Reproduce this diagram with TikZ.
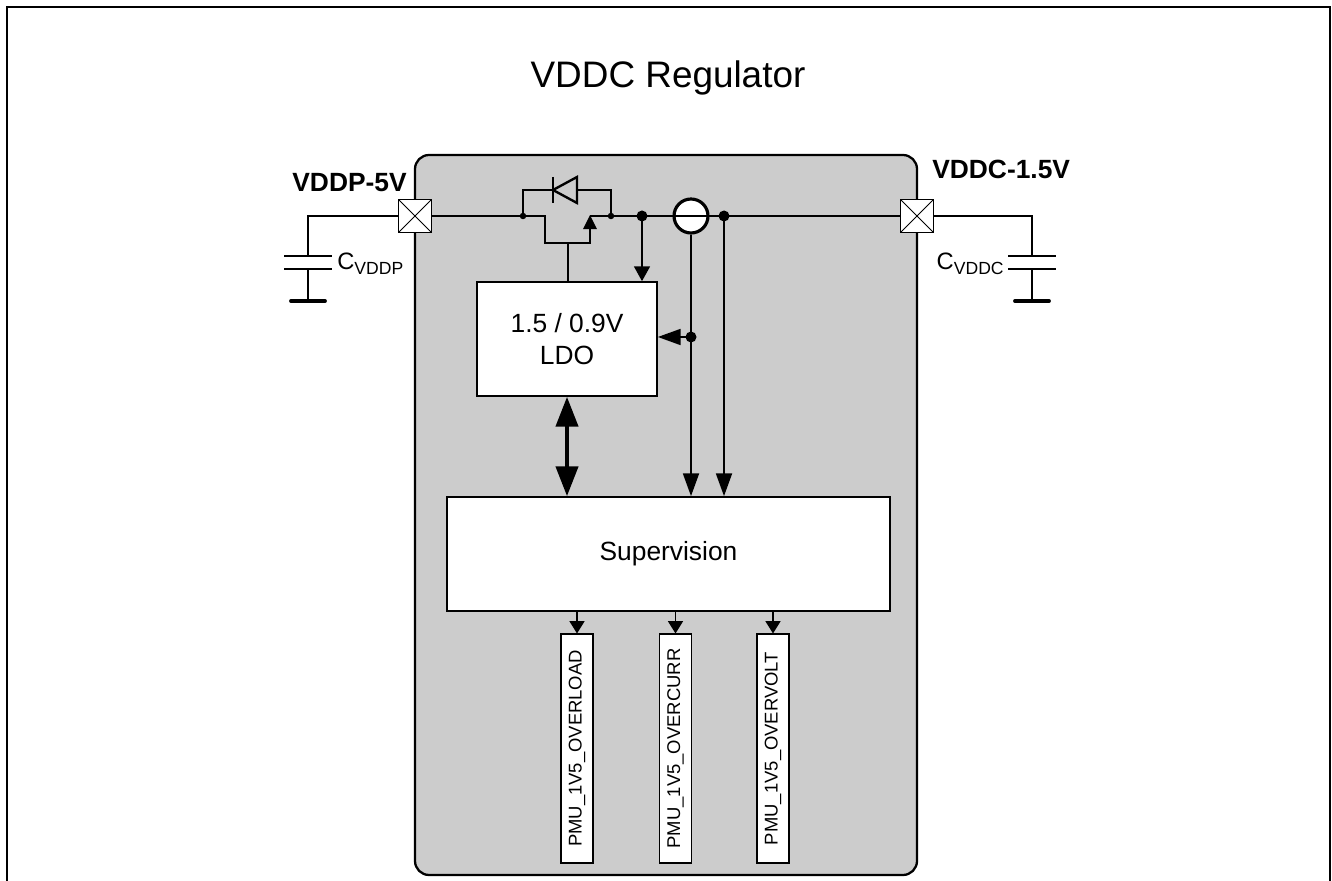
\documentclass[tikz,border=0pt]{standalone}
\usepackage{fontspec}
\setmainfont{Liberation Sans}
\usetikzlibrary{arrows.meta}

\definecolor{chipgray}{RGB}{204,204,204}

\tikzset{
  wire/.style={line width=1.35pt},
  pad/.style={draw, fill=white, line width=0.9pt, minimum size=0.66cm, inner sep=0pt,
    path picture={\draw[line width=0.5pt] (path picture bounding box.south west) -- (path picture bounding box.north east)
      (path picture bounding box.north west) -- (path picture bounding box.south east);}},
  blk/.style={draw, fill=white, line width=0.9pt, inner sep=0pt, font=\fontsize{15}{18}\selectfont, align=center},
  sigbox/.style={draw, fill=white, line width=0.6pt, inner sep=0pt, rotate=90,
    minimum width=4.58cm, minimum height=0.64cm, font=\fontsize{10.5}{12}\selectfont},
  arr/.style={wire, -{Triangle[length=13pt,width=9pt]}},
  arrshort/.style={wire, -{Triangle[length=8.5pt,width=9pt]}},
  arrout/.style={line width=0.8pt, -{Triangle[length=7pt,width=8.5pt]}},
  dbl/.style={line width=2.4pt, {Triangle[length=17pt,width=12.5pt]}-{Triangle[length=17pt,width=12.5pt]}},
  lbl/.style={font=\bfseries\fontsize{15}{18}\selectfont, inner sep=0pt},
  caplbl/.style={font=\fontsize{13.5}{16}\selectfont, inner sep=0pt},
}
\newcommand{\capname}[1]{C\raisebox{-2.5pt}{\fontsize{10}{12}\selectfont #1}}

\begin{document}
\begin{tikzpicture}[x=0.02cm,y=-0.02cm]
\useasboundingbox (0,0) rectangle (1332,881);
\draw[line width=1pt] (7,881) -- (7,7) -- (1330,7) -- (1330,881); %frame
\node[font=\fontsize{21}{24}\selectfont] (title) at (668,78) {VDDC Regulator};

% chip body
\draw[fill=chipgray, line width=1.3pt, rounded corners=8pt] (415,155) rectangle (917,875);

% pads and pin names
\node[pad] (vddp) at (415,216) {};
\node[pad] (vddc) at (917,216) {};
\node[lbl, anchor=base east] (vddplbl) at (407,192) {VDDP-5V};
\node[lbl, anchor=base west] (vddclbl) at (932,179) {VDDC-1.5V};

% external capacitors
\coordinate (cl) at (308,216);
\coordinate (cr) at (1032,216);
\draw[wire] (vddp.west) -- (cl) -- (308,256);
\draw[wire] (284,256) -- (332,256);
\draw[wire] (284,269) -- (332,269);
\draw[wire] (308,269) -- (308,301);
\draw[line width=2.2pt, line cap=round] (291,301) -- (325,301);
\node[caplbl, anchor=base west] (cvddp) at (337,270) {\capname{VDDP}};

\draw[wire] (vddc.east) -- (cr) -- (1032,256);
\draw[wire] (1008,256) -- (1056,256);
\draw[wire] (1008,269) -- (1056,269);
\draw[wire] (1032,269) -- (1032,301);
\draw[line width=2.2pt, line cap=round] (1015,301) -- (1049,301);
\node[caplbl, anchor=base east] (cvddc) at (1004,270) {\capname{VDDC}};

% blocks
\node[blk, minimum width=3.6cm, minimum height=2.28cm] (ldo) at (567,339) {1.5 / 0.9V\\LDO};
\node[blk, minimum width=8.86cm, minimum height=2.28cm] (sup) at (668.5,554) {Supervision};
\node[sigbox] (s1) at (577,748.5) {PMU\_1V5\_OVERLOAD};
\node[sigbox] (s2) at (675.5,748.5) {PMU\_1V5\_OVERCURR};
\node[sigbox] (s3) at (773,748.5) {PMU\_1V5\_OVERVOLT};

% pass device with bypass diode
\coordinate (j1) at (523,216);
\coordinate (j2) at (611,216);
\coordinate (gate) at (568,243);
\draw[wire] (vddp.east) -- (j1) -- (545,216) -- (545,243) -- (590,243) -- (590,228);
\draw[wire, -{Triangle[length=8pt,width=7.5pt]}] (590,230) -- (590,215);
\draw[wire] (590,216) -- (j2);
\draw[wire] (j1) -- (523,190) -- (611,190) -- (j2);
\draw[wire, fill=chipgray] (553,190) -- (577,177) -- (577,203) -- cycle;
\draw[wire] (553,177) -- (553,203);
\draw[wire] (gate) -- (gate |- ldo.north);
\fill (j1) circle (0.065cm);
\fill (j2) circle (0.065cm);

% output rail with current sense
\node[circle, draw, fill=white, line width=1.8pt, minimum size=0.68cm, inner sep=0pt] (isense) at (691,216) {};
\coordinate (dA) at (642,216);
\coordinate (dB) at (724,216);
\draw[wire] (j2) -- (dA) -- (dB) -- (vddc.west);
\fill (dA) circle (0.11cm);
\fill (dB) circle (0.11cm);

% sense lines
\coordinate (dC) at (isense.south |- 0,337);
\draw[arrshort] (dA) -- (dA |- ldo.north);
\draw[arr] (isense.south) -- (isense.south |- sup.north);
\draw[arr] (dB) -- (dB |- sup.north);
\draw[arr] (dC) -- (dC -| ldo.east);
\fill (dC) circle (0.11cm);
\draw[dbl] (ldo.south) -- (ldo.south |- sup.north);

% flags
\draw[arrout] (s1 |- sup.south) -- (s1.east);
\draw[arrout] (s2 |- sup.south) -- (s2.east);
\draw[arrout] (s3 |- sup.south) -- (s3.east);
\end{tikzpicture}
\end{document}
